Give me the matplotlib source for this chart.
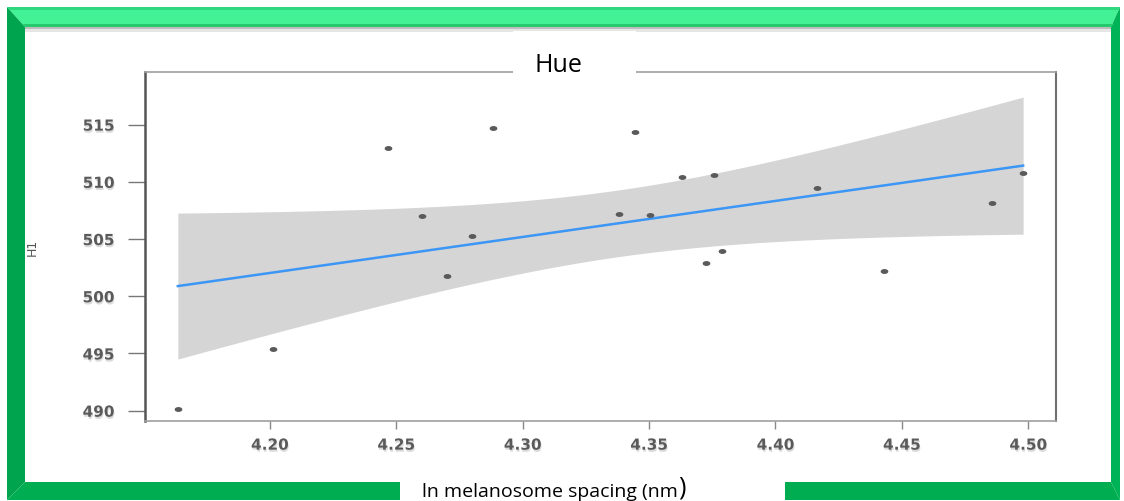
import numpy as np
import matplotlib
matplotlib.use('Agg')
import matplotlib.pyplot as plt
from matplotlib.patches import Polygon, Rectangle
from matplotlib.path import Path
import matplotlib.patheffects as pe

# ln melanosome spacing (nm) vs H1
spacing = np.array([4.1636, 4.2013, 4.2468, 4.2601, 4.2699, 4.2798, 4.2882,
                    4.3382, 4.3443, 4.3503, 4.3631, 4.3725, 4.3758, 4.3787,
                    4.4165, 4.4430, 4.4858, 4.4980])
h1 = np.array([490.15, 495.4, 513.0, 506.98, 501.8, 505.3, 514.7,
               507.15, 514.4, 507.07, 510.45, 502.95, 510.6, 503.98,
               509.49, 502.2, 508.18, 510.8])

x_ticks = [4.20, 4.25, 4.30, 4.35, 4.40, 4.45, 4.50]
y_ticks = [490, 495, 500, 505, 510, 515]

title = 'Hue'
x_label = 'ln melanosome spacing (nm'
y_label = 'H1'

T_975 = 2.12  # t quantile, df = 16


def lm_band(x, y, grid, t=T_975):
    """Linear fit with 95% confidence band (like geom_smooth(method='lm'))."""
    b, a = np.polyfit(x, y, 1)
    fit = a + b * grid
    n = len(x)
    s = np.sqrt(np.sum((y - (a + b * x)) ** 2) / (n - 2))
    se = s * np.sqrt(1 / n + (grid - x.mean()) ** 2 / np.sum((x - x.mean()) ** 2))
    return fit, fit - t * se, fit + t * se


fig = plt.figure(figsize=(11.24, 5.02), dpi=100)
fig.patch.set_facecolor('white')

# --- green bevelled frame (pixel coords) ---
bg = fig.add_axes([0, 0, 1, 1], zorder=0)
bg.set_xlim(0, 1124)
bg.set_ylim(502, 0)
bg.axis('off')

L, R, T, B = 7, 1120, 8, 501
l, r, t, b = 25, 1111, 28, 483
bg.add_patch(Polygon([(L, T), (R, T), (r, t), (l, t)], closed=True, fc='#42f294', ec='none'))
bg.add_patch(Polygon([(L, T), (l, t), (l, b), (L, B)], closed=True, fc='#00a34e', ec='none'))
bg.add_patch(Polygon([(R, T), (r, t), (r, b), (R, B)], closed=True, fc='#00b357', ec='none'))
bg.add_patch(Polygon([(L, B), (l, b), (r, b), (R, B)], closed=True, fc='#00ad50', ec='none'))
bg.add_patch(Polygon([(L, T), (R, T), (R - 2, T + 3), (L + 2, T + 3)], closed=True, fc='#2fd87e', ec='none'))
bg.add_patch(Polygon([(l - 3, t - 3), (r + 3, t - 3), (r, t), (l, t)], closed=True, fc='#27c96f', ec='none'))
bg.add_patch(Rectangle((l, t), r - l, 2, fc='#bdbdbd', ec='none'))
bg.add_patch(Rectangle((l, t + 2), r - l, 3, fc='#e6e6e6', ec='none'))

# --- scatter + regression ---
ax = fig.add_axes([145 / 1124, 1 - 422 / 502, (1056 - 145) / 1124, (422 - 73) / 502], zorder=1)
ax.set_facecolor('white')

grid = np.linspace(spacing.min(), spacing.max(), 200)
fit, lo, hi = lm_band(spacing, h1, grid)
ax.fill_between(grid, lo, hi, color='#d5d5d5', lw=0, zorder=1)
ax.plot(grid, fit, color='#3b96f5', lw=1.8, zorder=2)

circ = Path.unit_circle()
dot = Path(circ.vertices * [1.8, 1.0], circ.codes)
ax.plot(spacing, h1, ls='none', marker=dot, ms=4.5, color='#5a5a5a', zorder=3)

ax.set_xlim(4.1506, 4.511)
ax.set_ylim(489.1, 519.6)
ax.set_xticks(x_ticks)
ax.set_xticklabels([f'{v:.2f}' for v in x_ticks])
ax.set_yticks(y_ticks)

shadow = [pe.SimplePatchShadow(offset=(0.5, -1.5), shadow_rgbFace='#999999', alpha=0.35), pe.Normal()]
ax.tick_params(axis='y', length=12, width=1, color='#777777', pad=10,
               labelsize=11, labelcolor='#5a5a5a')
ax.tick_params(axis='x', length=6, width=1, color='#888888', pad=6,
               labelsize=11, labelcolor='#5a5a5a')
for lab in ax.get_xticklabels() + ax.get_yticklabels():
    lab.set_path_effects(shadow)
    lab.set_fontweight('bold')

ax.spines['top'].set_color('#a0a0a0')
ax.spines['top'].set_linewidth(1.2)
ax.spines['bottom'].set_color('#a0a0a0')
ax.spines['bottom'].set_linewidth(1.2)
ax.spines['left'].set_color('#555555')
ax.spines['left'].set_linewidth(1.8)
ax.spines['right'].set_color('#707070')
ax.spines['right'].set_linewidth(1.5)

ax.set_ylabel(y_label, fontsize=9, color='#555555')
ax.yaxis.set_label_coords(-0.117, 0.5)

# --- overlay: white label boxes ---
ov = fig.add_axes([0, 0, 1, 1], zorder=2)
ov.set_xlim(0, 1124)
ov.set_ylim(502, 0)
ov.axis('off')
ov.add_patch(Rectangle((513, 32), 123, 54, fc='white', ec='none'))
ov.add_patch(Rectangle((400, 470), 385, 32, fc='white', ec='none'))

ov.text(558, 72, title, ha='center', va='baseline', fontsize=18,
        family='Open Sans', color='black')
xl = ov.text(422, 497, x_label, ha='left', va='baseline', fontsize=14,
             family='Open Sans', color='black')
ov.annotate(')', xy=(1, 0), xycoords=xl, ha='left', va='bottom',
            fontsize=18, family='Open Sans', color='black')

fig.savefig('out.png', dpi=100)
